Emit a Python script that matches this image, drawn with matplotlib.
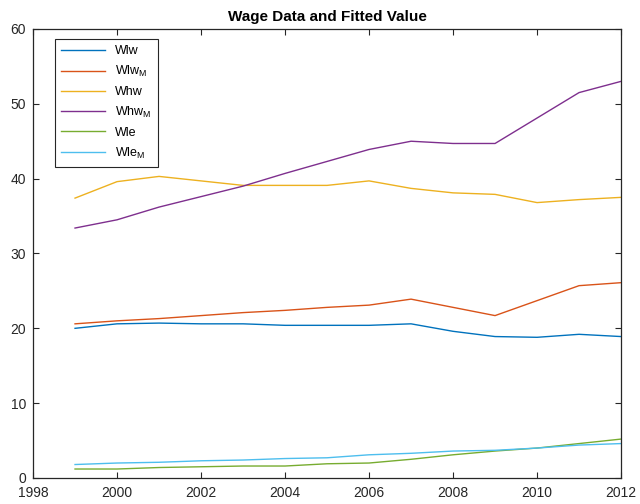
import matplotlib
matplotlib.use("Agg")
import matplotlib.pyplot as plt

plt.rcParams["font.family"] = ["Liberation Sans", "DejaVu Sans"]
plt.rcParams["mathtext.fontset"] = "custom"
plt.rcParams["mathtext.rm"] = "Liberation Sans"

years = list(range(1999, 2013))

wlw = [20.0, 20.6, 20.7, 20.6, 20.6, 20.4, 20.4, 20.4, 20.6, 19.6, 18.9, 18.8, 19.2, 18.9]
wlw_m = [20.6, 21.0, 21.3, 21.7, 22.1, 22.4, 22.8, 23.1, 23.9, 22.8, 21.7, 23.7, 25.7, 26.1]
whw = [37.4, 39.6, 40.3, 39.7, 39.1, 39.1, 39.1, 39.7, 38.7, 38.1, 37.9, 36.8, 37.2, 37.5]
whw_m = [33.4, 34.5, 36.2, 37.6, 39.0, 40.7, 42.3, 43.9, 45.0, 44.7, 44.7, 48.1, 51.5, 53.0]
wle = [1.2, 1.2, 1.4, 1.5, 1.6, 1.6, 1.9, 2.0, 2.5, 3.1, 3.6, 4.0, 4.6, 5.2]
wle_m = [1.8, 2.0, 2.1, 2.3, 2.4, 2.6, 2.7, 3.1, 3.3, 3.6, 3.7, 4.0, 4.4, 4.6]

series = [
    ("Wlw", wlw, "#0072BD"),
    (r"Wlw$_{\mathrm{M}}$", wlw_m, "#D95319"),
    ("Whw", whw, "#EDB120"),
    (r"Whw$_{\mathrm{M}}$", whw_m, "#7E2F8E"),
    ("Wle", wle, "#77AC30"),
    (r"Wle$_{\mathrm{M}}$", wle_m, "#4DBEEE"),
]

fig = plt.figure(figsize=(6.4, 5.04), dpi=100)
ax = fig.add_axes([0.0516, 0.0516, 0.9188, 0.8909])

for name, vals, color in series:
    ax.plot(years, vals, color=color, linewidth=1.0, label=name)

ax.set_xlim(1998, 2012)
ax.set_ylim(0, 60)
ax.set_xticks(range(1998, 2013, 2))
ax.set_yticks(range(0, 61, 10))
ax.tick_params(direction="in", length=4, width=0.8, top=True, right=True,
               labelsize=10, colors="#262626")
ax.tick_params(axis="x", pad=6)
ax.tick_params(axis="y", pad=5)
for sp in ax.spines.values():
    sp.set_color("#262626")
    sp.set_linewidth(0.9)

ax.set_title("Wage Data and Fitted Value", fontsize=11, fontweight="bold", pad=6)

leg = ax.legend(loc="upper left", bbox_to_anchor=(0.037, 0.978), fontsize=9,
                handlelength=3.5, labelspacing=0.55, borderpad=0.5,
                borderaxespad=0, fancybox=False, framealpha=1.0)
leg.get_frame().set_edgecolor("#262626")
leg.get_frame().set_linewidth(0.8)

fig.savefig("out.png", dpi=100)
